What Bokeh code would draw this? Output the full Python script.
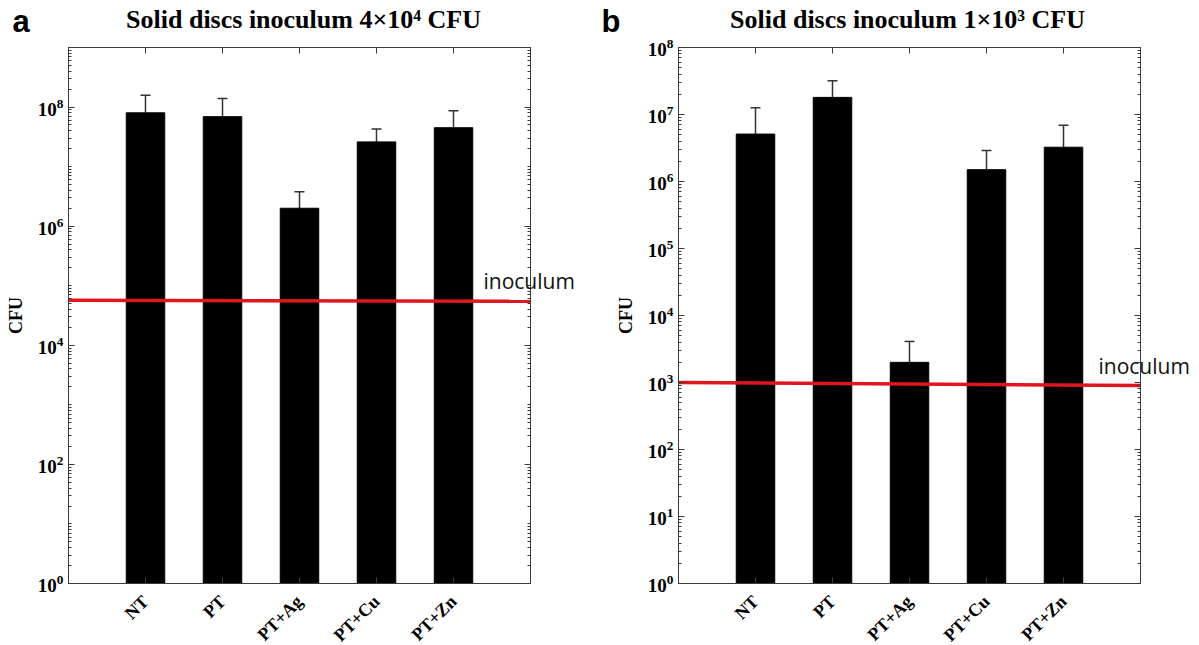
import math
from bokeh.plotting import figure
from bokeh.models import (ColumnDataSource, FactorRange, Range1d, LogAxis, CategoricalAxis,
                          FixedTicker, Whisker, TeeHead, CustomJSTickFormatter)
from bokeh.core.properties import value
from bokeh.layouts import row
from bokeh.embed import file_html
from bokeh.resources import INLINE

# ---------------- data ----------------
categories = ["NT", "PT", "PT+Ag", "PT+Cu", "PT+Zn"]

title_a = "Solid discs inoculum 4×10⁴ CFU"
cfu_a = [8.0e7, 6.9e7, 2.0e6, 2.6e7, 4.5e7]
err_top_a = [1.58e8, 1.39e8, 3.8e6, 4.3e7, 8.7e7]
inoculum_a = [5.7e4, 5.5e4]
ymax_a = 1e9
major_a = [1e0, 1e2, 1e4, 1e6, 1e8]

title_b = "Solid discs inoculum 1×10³ CFU"
cfu_b = [5.1e6, 1.8e7, 2.0e3, 1.5e6, 3.25e6]
err_top_b = [1.26e7, 3.2e7, 4.1e3, 2.9e6, 6.9e6]
inoculum_b = [1.0e3, 0.9e3]
ymax_b = 1e8
major_b = [1e0, 1e1, 1e2, 1e3, 1e4, 1e5, 1e6, 1e7, 1e8]

inoculum_text = "inoculum"
y_label = "CFU"

AXC = "#3a3a3a"
RED = "#e0161f"
SERIF = "Liberation Serif"
FRAME_W, FRAME_H = 462, 536
TOP, BOTTOM_PAD = 47, 62


def minor_ticks(ymax):
    out = []
    k = 0
    while 10 ** k < ymax:
        for m in range(2, 10):
            out.append(m * 10 ** k)
        out.append(10 ** (k + 1))
        k += 1
    return out


def style_axis(ax):
    ax.axis_line_color = AXC
    ax.major_tick_line_color = AXC
    ax.minor_tick_line_color = AXC
    ax.major_tick_in = 6
    ax.major_tick_out = 0
    ax.minor_tick_in = 3
    ax.minor_tick_out = 0


def make_panel(letter, title, values, err_top, inoc, ymax, major, fig_w, left):
    pad = 0.5
    n = len(categories)
    src = ColumnDataSource(dict(cat=categories, top=values, bottom=[1] * n, upper=err_top))
    p = figure(x_range=FactorRange(factors=categories, range_padding=pad,
                                   range_padding_units="absolute"),
               y_range=Range1d(1, ymax), y_axis_type="log",
               frame_width=FRAME_W, frame_height=FRAME_H,
               min_border_left=left, min_border_right=fig_w - left - FRAME_W,
               min_border_top=TOP, min_border_bottom=BOTTOM_PAD,
               output_backend="svg", toolbar_location=None)

    p.xgrid.visible = False
    p.ygrid.visible = False
    p.outline_line_color = AXC
    p.background_fill_color = "white"
    p.border_fill_color = "white"

    # helpers: screen pixel -> data coordinates (annotation placement only)
    ppu = FRAME_W / (n + 2 * pad)
    decades = math.log10(ymax)

    def ux(px_from_frame_left):
        return -pad + px_from_frame_left / ppu

    def uy(px_from_top):
        return 10 ** ((TOP + FRAME_H - px_from_top) * decades / FRAME_H)

    # bars
    p.vbar(x="cat", top="top", bottom="bottom", width=0.5, source=src,
           fill_color="black", line_color="black")

    # error bars (upper only)
    p.add_layout(Whisker(source=src, base="cat", lower="top", upper="upper",
                         line_color="#333333", line_width=1.5,
                         upper_head=TeeHead(size=10, line_color="#333333", line_width=1.5),
                         lower_head=None))

    # inoculum line across the full frame
    x_ends = [-pad, n + pad]
    p.line(x=x_ends, y=inoc, line_color=RED, line_width=3.5)

    # texts outside / across the frame edge (overlay level -> not clipped)
    lbl_x = ux(415 if letter == "a" else 420)
    p.text(x=[lbl_x], y=[inoc[-1]], text=[inoculum_text], y_offset=-20,
           text_font=value("Open Sans"), text_font_size="21px", text_color="#111111",
           text_baseline="alphabetic", text_align="left", level="overlay")
    p.text(x=[ux(FRAME_W / 2 + (4 if letter == "a" else -2))], y=[uy(19)], text=[title],
           text_font=value(SERIF), text_font_style="bold", text_font_size="26px",
           text_color="black", text_align="center", text_baseline="alphabetic",
           level="overlay")
    p.text(x=[ux(12 - 68 if letter == "a" else 1 - left)], y=[uy(21)], text=[letter],
           text_font=value("Liberation Sans"), text_font_style="bold",
           text_font_size="31px", text_color="black", text_align="left",
           text_baseline="alphabetic", level="overlay")

    # y axis (left)
    yax = p.yaxis[0]
    yax.ticker = FixedTicker(ticks=major, minor_ticks=minor_ticks(ymax))
    style_axis(yax)
    yax.axis_label = y_label
    yax.axis_label_text_font = SERIF
    yax.axis_label_text_font_style = "bold"
    yax.axis_label_text_font_size = "18px"
    yax.axis_label_text_color = "black"
    yax.axis_label_standoff = 9
    yax.major_label_text_font = SERIF
    yax.major_label_text_font_style = "bold"
    yax.major_label_text_font_size = "19px"
    yax.major_label_text_color = "black"
    yax.major_label_standoff = 5

    # x axis (bottom)
    xax = p.xaxis[0]
    style_axis(xax)
    xax.major_label_orientation = math.pi / 4
    xax.major_label_text_font = SERIF
    xax.major_label_text_font_style = "bold"
    xax.major_label_text_font_size = "18px"
    xax.major_label_text_color = "black"
    xax.major_label_standoff = 15

    # mirrored axes (right, top) without labels
    rax = LogAxis(ticker=FixedTicker(ticks=major, minor_ticks=minor_ticks(ymax)),
                  formatter=CustomJSTickFormatter(code="return ''"),
                  major_label_standoff=0)
    style_axis(rax)
    p.add_layout(rax, "right")
    tax = CategoricalAxis(formatter=CustomJSTickFormatter(code="return ''"),
                          major_label_standoff=0)
    style_axis(tax)
    p.add_layout(tax, "above")
    return p


pa = make_panel("a", title_a, cfu_a, err_top_a, inoculum_a, ymax_a, major_a, 600, 68)
pb = make_panel("b", title_b, cfu_b, err_top_b, inoculum_b, ymax_b, major_b, 599, 78)

layout = row(pa, pb)
open("out.html", "w").write(file_html(layout, INLINE))
